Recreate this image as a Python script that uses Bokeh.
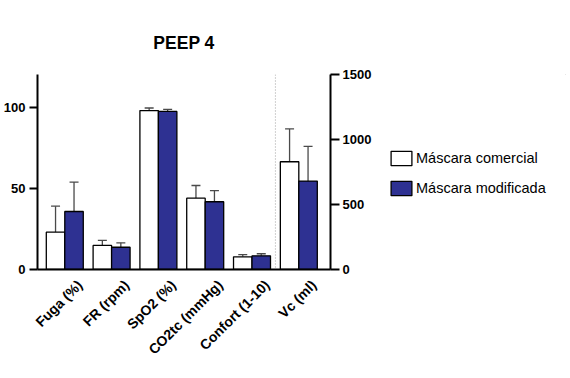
import numpy as np
from bokeh.plotting import figure
from bokeh.layouts import row
from bokeh.models import (Range1d, LinearAxis, FixedTicker, ColumnDataSource,
                          Whisker, TeeHead, Span, Legend, LegendItem)
from bokeh.embed import file_html
from bokeh.resources import INLINE

# ---- data ----
categories = ["Fuga (%)", "FR (rpm)", "SpO2 (%)", "CO2tc (mmHg)", "Confort (1-10)", "Vc (ml)"]
comercial_mean = [23.0, 14.8, 97.8, 43.9, 7.8, 829]
comercial_sd = [16.0, 3.1, 1.6, 7.8, 1.4, 252]
modificada_mean = [35.7, 13.7, 97.3, 41.7, 8.4, 680]
modificada_sd = [18.1, 2.7, 1.3, 6.8, 1.3, 267]
series_names = ["Máscara comercial", "Máscara modificada"]
left_ticks = [0, 50, 100]
right_ticks = [0, 500, 1000, 1500]
title_text = "PEEP 4"

FONT = "Liberation Sans"
BLUE = "#2e3192"
ERR = "#4a4a4a"
BW = 0.395
LABEL_SHIFT = 0.32

centers = [i + 0.5 for i in range(len(categories))]
n_left = len(categories) - 1  # last category uses right axis

p = figure(frame_width=293, frame_height=195, output_backend="svg", toolbar_location=None,
           x_range=Range1d(-0.083, 6.177), y_range=Range1d(0, 120),
           min_border_left=37, min_border_right=50, min_border_top=74,
           min_border_bottom=103)
p.extra_y_ranges = {"right": Range1d(0, 1500)}
p.xgrid.visible = False
p.ygrid.visible = False
p.outline_line_color = None

p.title.text = title_text
p.title.text_font = FONT
p.title.text_font_size = "17.5px"
p.title.text_font_style = "bold"
p.title.text_color = "black"
p.title.align = "center"
p.title.standoff = 44

def style_axis(ax, tick_out=7, standoff=3):
    ax.axis_line_color = "black"
    ax.axis_line_width = 2
    ax.major_tick_line_color = "black"
    ax.major_tick_line_width = 2
    ax.major_tick_out = tick_out
    ax.major_tick_in = 0
    ax.minor_tick_line_color = None
    ax.major_label_text_font = FONT
    ax.major_label_text_font_size = "13px"
    ax.major_label_text_font_style = "bold"
    ax.major_label_text_color = "black"
    ax.major_label_standoff = standoff

# left axis
yl = p.yaxis[0]
style_axis(yl, 8, 4)
yl.ticker = FixedTicker(ticks=left_ticks)

# bottom axis (ticks hidden, labels anchored like the original)
xb = p.xaxis[0]
style_axis(xb, 0, 13)
xb.major_label_text_font_size = "14px"
label_pos = [c + LABEL_SHIFT for c in centers]
xb.ticker = FixedTicker(ticks=label_pos)
xb.major_label_overrides = {c: cat for c, cat in zip(label_pos, categories)}
xb.major_label_orientation = np.pi / 4

# right axis
yr = LinearAxis(y_range_name="right", ticker=FixedTicker(ticks=right_ticks))
style_axis(yr, 9, 3)
p.add_layout(yr, "right")

# dotted separator
p.add_layout(Span(location=n_left, dimension="height", line_color="#a0a0a0",
                  line_width=1, line_dash="1 2"))

def bars(fig, idx, means, sds, offset, fill, y_range_name="default", whiskers=True):
    xs = [centers[i] + offset for i in idx]
    tops = [means[i] for i in idx]
    src = ColumnDataSource(dict(x=xs, top=tops, upper=[means[i] + sds[i] for i in idx]))
    r = fig.vbar(x="x", top="top", bottom=0, width=BW, source=src, fill_color=fill,
                 line_color="black", line_width=1.3, y_range_name=y_range_name)
    if whiskers:
        w = Whisker(source=src, base="x", lower="top", upper="upper", dimension="height",
                    line_color=ERR, line_width=1.3, lower_head=None,
                    upper_head=TeeHead(size=9, line_color=ERR, line_width=1.3),
                    y_range_name=y_range_name)
        fig.add_layout(w)
    return r

left_idx = list(range(n_left))
right_idx = [n_left]
bars(p, left_idx, comercial_mean, comercial_sd, -BW / 2, "white")
bars(p, left_idx, modificada_mean, modificada_sd, BW / 2, BLUE)
bars(p, right_idx, comercial_mean, comercial_sd, -BW / 2, "white", "right")
bars(p, right_idx, modificada_mean, modificada_sd, BW / 2, BLUE, "right")

# legend panel (its frame is aligned with the main plot frame by the row layout);
# its swatch renderers hold the series' data but lie outside this panel's ranges
p2 = figure(width=186, height=372, output_backend="svg", toolbar_location=None,
            x_range=Range1d(-100, -99), y_range=Range1d(-100, -99),
            x_axis_location=None, y_axis_location=None,
            min_border_left=0, min_border_right=0, min_border_top=0, min_border_bottom=0)
p2.xgrid.visible = False
p2.ygrid.visible = False
p2.outline_line_color = None
l1 = bars(p2, [0], comercial_mean, comercial_sd, 0, "white", whiskers=False)
l2 = bars(p2, [0], modificada_mean, modificada_sd, 0, BLUE, whiskers=False)

legend = Legend(items=[LegendItem(label=series_names[0], renderers=[l1]),
                       LegendItem(label=series_names[1], renderers=[l2])],
                location=(8, 72))
legend.border_line_color = None
legend.background_fill_alpha = 0
legend.label_text_font = FONT
legend.label_text_font_size = "14.5px"
legend.label_text_color = "black"
legend.glyph_width = 26
legend.glyph_height = 18
legend.label_height = 18
legend.label_standoff = 2
legend.spacing = 12
legend.padding = 0
legend.margin = 0
p2.add_layout(legend, "center")

open("out.html", "w").write(file_html(row(p, p2), INLINE))
